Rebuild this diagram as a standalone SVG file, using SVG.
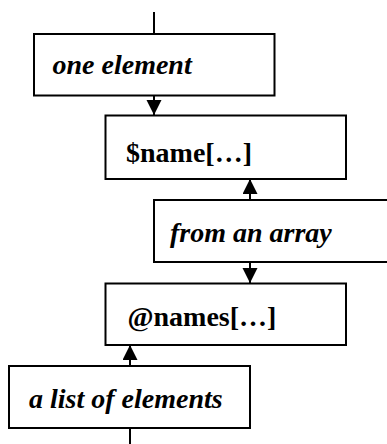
<svg xmlns="http://www.w3.org/2000/svg" width="387" height="444" viewBox="0 0 387 444">
<style>
.box{fill:#fff;stroke:#000;stroke-width:2}
.ln{stroke:#000;stroke-width:2;fill:none}
.it{font-family:"Liberation Serif",serif;font-style:italic;font-weight:bold;font-size:28px;fill:#000}
.bd{font-family:"Liberation Serif",serif;font-weight:bold;font-size:28px;fill:#000}
</style>
<defs>
<marker id="ah" markerUnits="userSpaceOnUse" markerWidth="16" markerHeight="16" refX="15" refY="7.5" orient="auto">
<path d="M0,0 L15,7.5 L0,15 z" fill="#000"/>
</marker>
</defs>
<g id="connectors">
<line class="ln" x1="154" y1="12" x2="154" y2="34"/>
<line class="ln" x1="154" y1="95" x2="154" y2="115" marker-end="url(#ah)"/>
<line class="ln" x1="250" y1="200" x2="250" y2="179" marker-end="url(#ah)"/>
<line class="ln" x1="250" y1="262" x2="250" y2="283" marker-end="url(#ah)"/>
<line class="ln" x1="130" y1="366" x2="130" y2="345" marker-end="url(#ah)"/>
<line class="ln" x1="130" y1="428" x2="130" y2="444"/>
</g>
<g id="one-element">
<rect class="box" x="34" y="34" width="240.5" height="61.5"/>
<text class="it" x="52.5" y="73.5">one element</text>
</g>
<g id="name">
<rect class="box" x="105.5" y="115.5" width="240.5" height="63.5"/>
<text class="bd" x="126" y="162">$name[…]</text>
</g>
<g id="from-array">
<rect class="box" x="154" y="200" width="240" height="62"/>
<text class="it" x="170" y="242">from an array</text>
</g>
<g id="names">
<rect class="box" x="105.5" y="283.5" width="240.5" height="61.5"/>
<text class="bd" x="127.5" y="326">@names[…]</text>
</g>
<g id="list">
<rect class="box" x="9" y="366" width="241" height="62"/>
<text class="it" x="29" y="408">a list of elements</text>
</g>
</svg>
